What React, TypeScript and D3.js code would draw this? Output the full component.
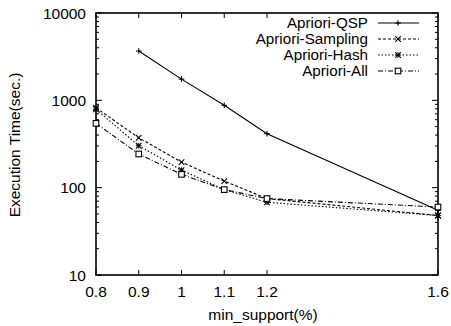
import { useRef, useEffect } from 'react';
import * as d3 from 'd3';

const xTicks = [0.8, 0.9, 1, 1.1, 1.2, 1.6];
const yTicks = [10, 100, 1000, 10000];

const supports = [0.8, 0.9, 1, 1.1, 1.2, 1.6];
const qspX = [0.9, 1, 1.1, 1.2, 1.6];
const qspY = [3670, 1750, 877, 415, 55];
const samplingY = [822, 373, 196, 119, 75, 48];
const hashY = [790, 302, 159, 95, 68, 48];
const allY = [545, 243, 142, 95, 75, 60];

interface Series {
  name: string;
  xs: number[];
  ys: number[];
  dash: string;
  marker: 'plus' | 'cross' | 'star' | 'square';
}

const series: Series[] = [
  { name: 'Apriori-QSP', xs: qspX, ys: qspY, dash: '', marker: 'plus' },
  { name: 'Apriori-Sampling', xs: supports, ys: samplingY, dash: '3,2', marker: 'cross' },
  { name: 'Apriori-Hash', xs: supports, ys: hashY, dash: '1.5,2', marker: 'star' },
  { name: 'Apriori-All', xs: supports, ys: allY, dash: '5,2,1,2', marker: 'square' },
];

function drawMarker(g: d3.Selection<SVGGElement, unknown, null, undefined>, kind: string, cx: number, cy: number) {
  const s = 2.8;
  const m = g.append('g').attr('transform', 'translate(' + cx + ',' + cy + ')')
    .attr('stroke', '#000').attr('stroke-width', 1.1).attr('fill', 'none');
  if (kind === 'plus' || kind === 'star') {
    m.append('line').attr('x1', -s).attr('x2', s).attr('y1', 0).attr('y2', 0);
    m.append('line').attr('x1', 0).attr('x2', 0).attr('y1', -s).attr('y2', s);
  }
  if (kind === 'cross' || kind === 'star') {
    m.append('line').attr('x1', -s).attr('x2', s).attr('y1', -s).attr('y2', s);
    m.append('line').attr('x1', -s).attr('x2', s).attr('y1', s).attr('y2', -s);
  }
  if (kind === 'square') {
    m.append('rect').attr('x', -s).attr('y', -s).attr('width', 2 * s).attr('height', 2 * s).attr('fill', '#fff');
  }
}

export default function App() {
  const svgRef = useRef<SVGSVGElement>(null);

  useEffect(() => {
    if (!svgRef.current) return;
    const svg = d3.select(svgRef.current);
    svg.selectAll('*').remove();

    const width = 451;
    const height = 326;
    const margin = { top: 13, right: 13, bottom: 51, left: 96 };
    const innerW = width - margin.left - margin.right;
    const innerH = height - margin.top - margin.bottom;
    const font = '"Liberation Sans", Arial, sans-serif';

    const x = d3.scaleLinear().domain([0.8, 1.6]).range([0, innerW]);
    const y = d3.scaleLog().domain([10, 10000]).range([innerH, 0]);

    const g = svg.append('g').attr('transform', 'translate(' + margin.left + ',' + margin.top + ')');

    // minor log ticks (left and right)
    const minor: number[] = [];
    for (let d = 10; d < 10000; d *= 10) for (let k = 2; k <= 9; k++) minor.push(d * k);
    g.selectAll('line.minorL').data(minor).join('line')
      .attr('x1', 0).attr('x2', 3).attr('y1', (d) => y(d)).attr('y2', (d) => y(d))
      .attr('stroke', '#000').attr('stroke-width', 1);
    g.selectAll('line.minorR').data(minor).join('line')
      .attr('x1', innerW).attr('x2', innerW - 3).attr('y1', (d) => y(d)).attr('y2', (d) => y(d))
      .attr('stroke', '#000').attr('stroke-width', 1);

    // major y ticks
    g.selectAll('line.majorL').data(yTicks).join('line')
      .attr('x1', 0).attr('x2', 6).attr('y1', (d) => y(d)).attr('y2', (d) => y(d))
      .attr('stroke', '#000').attr('stroke-width', 1);
    g.selectAll('line.majorR').data(yTicks).join('line')
      .attr('x1', innerW).attr('x2', innerW - 6).attr('y1', (d) => y(d)).attr('y2', (d) => y(d))
      .attr('stroke', '#000').attr('stroke-width', 1);

    // x ticks bottom and top
    g.selectAll('line.xb').data(xTicks).join('line')
      .attr('x1', (d) => x(d)).attr('x2', (d) => x(d)).attr('y1', innerH).attr('y2', innerH - 5)
      .attr('stroke', '#000').attr('stroke-width', 1);
    g.selectAll('line.xt').data(xTicks).join('line')
      .attr('x1', (d) => x(d)).attr('x2', (d) => x(d)).attr('y1', 0).attr('y2', 5)
      .attr('stroke', '#000').attr('stroke-width', 1);

    // frame
    g.append('rect').attr('x', 0).attr('y', 0).attr('width', innerW).attr('height', innerH)
      .attr('fill', 'none').attr('stroke', '#000').attr('stroke-width', 1.6);

    // tick labels
    g.selectAll('text.yl').data(yTicks).join('text')
      .attr('x', -10).attr('y', (d) => y(d)).attr('dy', '0.36em')
      .attr('text-anchor', 'end').attr('font-family', font).attr('font-size', 15.5)
      .text((d) => String(d));
    g.selectAll('text.xl').data(xTicks).join('text')
      .attr('x', (d) => x(d)).attr('y', innerH + 22)
      .attr('text-anchor', 'middle').attr('font-family', font).attr('font-size', 15.5)
      .text((d) => String(d));

    // axis titles
    svg.append('text')
      .attr('x', margin.left + innerW / 2 - 4).attr('y', height - 6)
      .attr('text-anchor', 'middle').attr('font-family', font).attr('font-size', 15.5)
      .text('min_support(%)');
    svg.append('text')
      .attr('transform', 'translate(20,' + (margin.top + 132) + ') rotate(-90)')
      .attr('text-anchor', 'middle').attr('font-family', font).attr('font-size', 15.5)
      .text('Execution Time(sec.)');

    // series lines
    const line = d3.line<[number, number]>().x((d) => x(d[0])).y((d) => y(d[1]));
    series.forEach((s) => {
      const pts: [number, number][] = s.xs.map((xv, i) => [xv, s.ys[i]]);
      g.append('path').attr('d', line(pts)!)
        .attr('fill', 'none').attr('stroke', '#000').attr('stroke-width', 1.1)
        .attr('stroke-dasharray', s.dash || null);
      pts.forEach((p) => drawMarker(g, s.marker, x(p[0]), y(p[1])));
    });

    // legend
    const lg = g.append('g');
    series.forEach((s, i) => {
      const ly = 10 + i * 16;
      lg.append('text')
        .attr('x', 272).attr('y', ly).attr('dy', '0.36em')
        .attr('text-anchor', 'end').attr('font-family', font).attr('font-size', 15.2)
        .text(s.name);
      lg.append('line').attr('x1', 282).attr('x2', 323).attr('y1', ly).attr('y2', ly)
        .attr('stroke', '#000').attr('stroke-width', 1.1)
        .attr('stroke-dasharray', s.dash || null);
      drawMarker(lg, s.marker, 302, ly);
    });
  }, []);

  return (
    <svg ref={svgRef} width={451} height={326}
      style={{ position: 'absolute', left: 0, top: 0, background: '#fff' }} />
  );
}
